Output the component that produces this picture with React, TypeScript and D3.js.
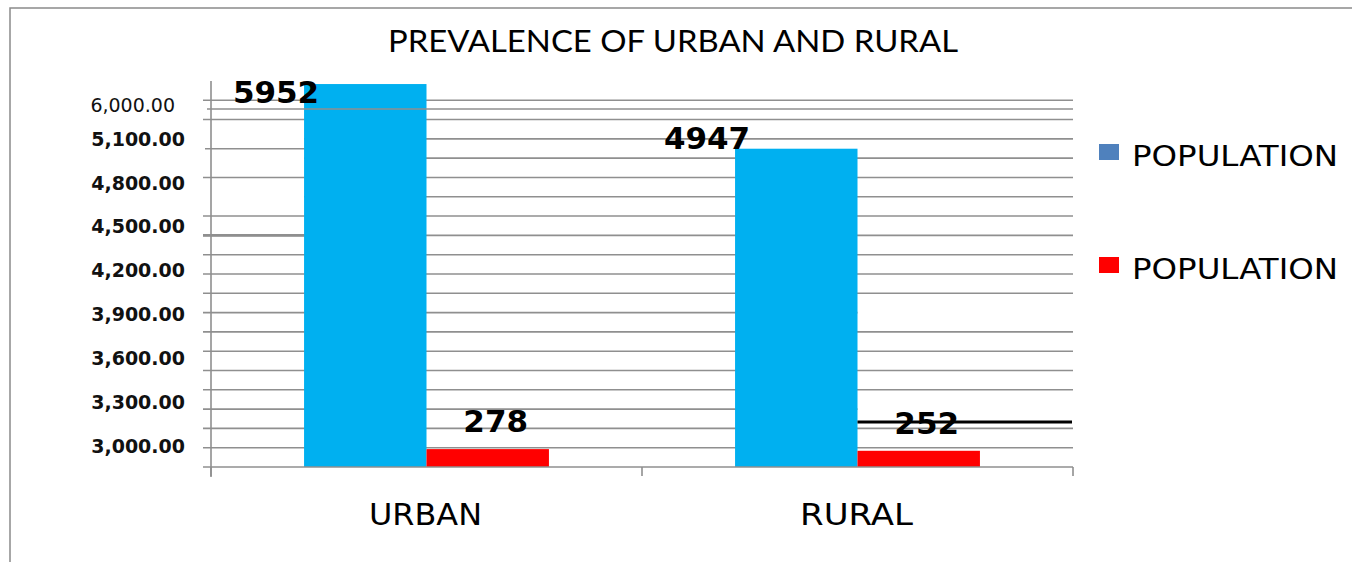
import { useEffect, useRef } from 'react'
import * as d3 from 'd3'

// chart values
const categories = ['URBAN', 'RURAL']
const seriesNames = ['POPULATION', 'POPULATION']
const blueValues = [5952, 4947]
const redValues = [278, 252]
const tickLabels = [6000, 5100, 4800, 4500, 4200, 3900, 3600, 3300, 3000]
const seriesColors = ['#00B0F0', '#FF0000']
const legendColors = ['#4F81BD', '#FF0000']

const W = 1352
const H = 562

export default function App() {
  const ref = useRef<SVGSVGElement>(null)

  useEffect(() => {
    const svg = d3.select(ref.current)
    svg.selectAll('*').remove()

    const left = 211, right = 1073, base = 467
    // bars are plain linear from zero, the axis labels are not
    const y = d3.scaleLinear().domain([0, 6000]).range([base, base - 6000 * 0.06434])
    const labelY = d3.scaleLinear().domain([3000, 5100]).range([445.7, 139])
    const x = d3.scaleBand<string>().domain(categories).range([left, right]).padding(0)
    const xs = d3.scaleBand<number>().domain([0, 1]).range([0, x.bandwidth()]).paddingInner(0).paddingOuter(0.76)

    // outer frame
    svg.append('rect').attr('x', 10).attr('y', 8).attr('width', W).attr('height', H)
      .attr('fill', 'white').attr('stroke', '#8a8a8a').attr('stroke-width', 1.5)

    svg.append('text').attr('x', 673).attr('y', 52).attr('text-anchor', 'middle')
      .attr('font-family', 'Lato, sans-serif').attr('font-size', 30)
      .attr('textLength', 570).attr('lengthAdjust', 'spacingAndGlyphs')
      .text('PREVALENCE OF URBAN AND RURAL')

    // gridlines, with the gaps the original shows
    const urbanL = x('URBAN')! + xs(0)!
    const ruralL = x('RURAL')! + xs(0)!
    const ruralMid = ruralL + xs.bandwidth()
    const gaps: Record<number, [number, number][]> = {
      5100: [[203, urbanL]],
      4800: [[203, urbanL]],
      4200: [[203, urbanL]],
      2400: [[ruralMid, right]],
      900: [[ruralMid, right]],
    }
    const grid = svg.append('g').attr('stroke', '#8f8f8f').attr('stroke-width', 1.6)
    d3.range(300, 5701, 300).forEach(v => {
      let segs: [number, number][] = [[203, right]]
      ;(gaps[v] || []).forEach(([a, b]) => {
        segs = segs.flatMap(([s, e]) => {
          const out: [number, number][] = []
          if (a > s) out.push([s, Math.min(a, e)])
          if (b < e) out.push([Math.max(b, s), e])
          return out
        })
      })
      segs.forEach(([s, e]) => {
        grid.append('line').attr('x1', s).attr('x2', e).attr('y1', y(v)).attr('y2', y(v))
      })
    })
    grid.append('line').attr('x1', 205).attr('x2', 310).attr('y1', y(4947)).attr('y2', y(4947))
    grid.append('line').attr('x1', 203).attr('x2', 310).attr('y1', y(3600)).attr('y2', y(3600))
      .attr('stroke-width', 2.6)

    // bars
    const groups = svg.append('g').selectAll('g').data(categories).join('g')
      .attr('transform', d => `translate(${x(d)},0)`)
    groups.selectAll('rect')
      .data((d, i) => [blueValues[i], redValues[i]])
      .join('rect')
      .attr('x', (d, j) => xs(j)!)
      .attr('width', xs.bandwidth())
      .attr('y', d => y(d))
      .attr('height', d => base - y(d))
      .attr('fill', (d, j) => seriesColors[j])

    // stray line drawn over the urban bar
    svg.append('line').attr('stroke', '#8f8f8f').attr('stroke-width', 1.6)
      .attr('x1', 207).attr('x2', right).attr('y1', y(5565)).attr('y2', y(5565))
    // black line right of the rural bar
    svg.append('line').attr('x1', ruralMid).attr('x2', right - 1)
      .attr('y1', y(700)).attr('y2', y(700)).attr('stroke', '#000').attr('stroke-width', 3)

    // axes
    const ax = svg.append('g').attr('stroke', '#8f8f8f').attr('stroke-width', 1.6)
    ax.append('line').attr('x1', left).attr('x2', left).attr('y1', 81).attr('y2', base + 10)
    ax.append('line').attr('x1', 203).attr('x2', right).attr('y1', base).attr('y2', base)
    ;[left, x('RURAL')!, right].forEach(t => {
      ax.append('line').attr('x1', t).attr('x2', t).attr('y1', base).attr('y2', base + 9)
    })

    const fmt = d3.format(',.2f')
    svg.append('g').selectAll('text').data(tickLabels).join('text')
      .attr('x', d => (d === 6000 ? 175 : 185))
      .attr('y', d => (d === 6000 ? y(5700) + 5 : labelY(d)))
      .attr('dy', '0.36em')
      .attr('text-anchor', 'end')
      .attr('font-family', 'DejaVu Sans, sans-serif')
      .attr('font-weight', d => (d === 6000 ? 'normal' : 'bold'))
      .attr('font-size', 19)
      .attr('fill', '#111')
      .text(d => fmt(d))

    // value labels
    const lab = svg.append('g').attr('font-family', 'DejaVu Sans, sans-serif')
      .attr('font-weight', 'bold').attr('font-size', 31).attr('text-anchor', 'middle')
    categories.forEach((c, i) => {
      const bx = x(c)! + xs(0)!
      lab.append('text').attr('x', bx - 28).attr('y', Math.max(y(blueValues[i]), 103))
        .text(blueValues[i])
      lab.append('text').attr('x', bx + xs.bandwidth() * 1.5 + 8).attr('y', y(redValues[i]) - 17)
        .text(redValues[i])
    })

    svg.append('g').selectAll('text').data(categories).join('text')
      .attr('x', d => x(d)! + x.bandwidth() / 2 - 1)
      .attr('y', 525)
      .attr('text-anchor', 'middle')
      .attr('font-family', 'DejaVu Sans, sans-serif')
      .attr('font-size', 31)
      .attr('textLength', 113).attr('lengthAdjust', 'spacingAndGlyphs')
      .text(d => d)

    // legend
    const leg = svg.append('g').selectAll('g').data(seriesNames).join('g')
      .attr('transform', (d, i) => `translate(1099,${i === 0 ? 144 : 257})`)
    leg.append('rect').attr('width', 20).attr('height', 16).attr('fill', (d, i) => legendColors[i])
    leg.append('text').attr('x', 33).attr('y', 22)
      .attr('font-family', 'DejaVu Sans, sans-serif').attr('font-size', 28)
      .attr('textLength', 206).attr('lengthAdjust', 'spacingAndGlyphs')
      .text(d => d)
  }, [])

  return (
    <svg ref={ref} width={W} height={H}
      style={{ position: 'absolute', left: 0, top: 0, background: 'white' }} />
  )
}
